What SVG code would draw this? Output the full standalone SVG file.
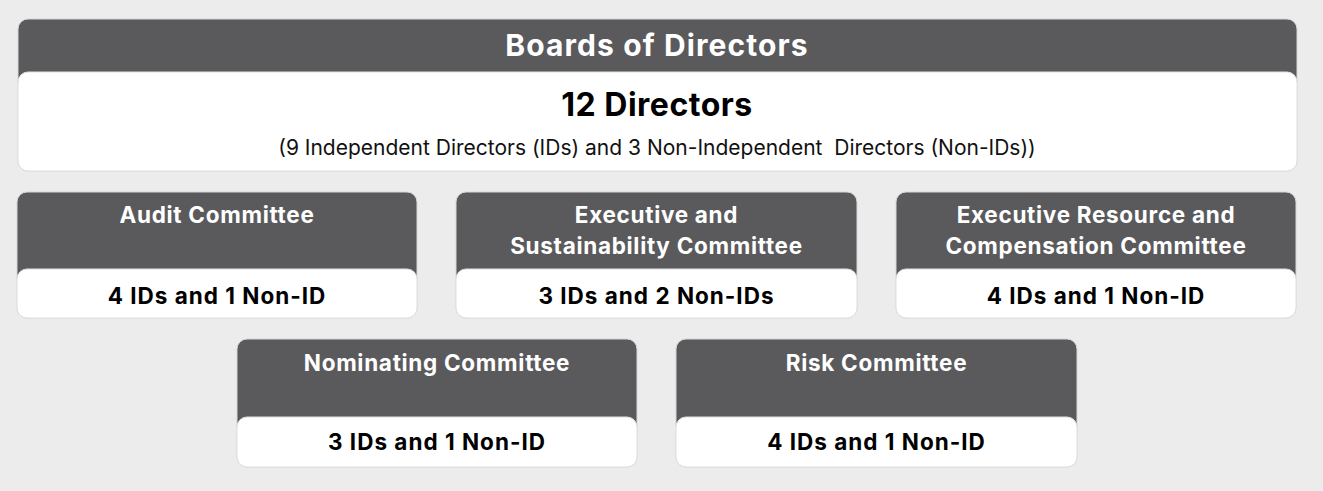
<svg xmlns="http://www.w3.org/2000/svg" width="1323" height="491" viewBox="0 0 1323 491">
<style>
.hd{fill:#5a5a5c;stroke:#d6d6d6;stroke-width:1}
.bd{fill:#ffffff;stroke:#e0e0e0;stroke-width:1}
.t{font-family:Inter,"Liberation Sans",sans-serif;text-anchor:middle;font-weight:700}
.w{fill:#ffffff;font-size:22.5px;letter-spacing:0.7px}
.k{fill:#000000;font-size:22.5px;letter-spacing:1px}
</style>
<rect x="0" y="0" width="1323" height="491" fill="#ececec"/>
<g id="board">
<rect class="hd" x="18" y="19" width="1279" height="152" rx="10"/>
<rect class="bd" x="18" y="72" width="1279" height="99" rx="10"/>
<text class="t" x="657" y="56" fill="#ffffff" font-size="30" letter-spacing="1.1">Boards of Directors</text>
<text class="t" x="657" y="116" fill="#000000" font-size="32" letter-spacing="0.5">12 Directors</text>
<text x="657" y="155" font-family="Inter,'Liberation Sans',sans-serif" font-size="21" text-anchor="middle" fill="#111111" xml:space="preserve">(9 Independent Directors (IDs) and 3 Non-Independent  Directors (Non-IDs))</text>
</g>
<g id="audit">
<rect class="hd" x="17" y="192" width="400" height="126" rx="10"/>
<rect class="bd" x="17" y="269" width="400" height="49" rx="10"/>
<text class="t w" x="217" y="223">Audit Committee</text>
<text class="t k" x="217" y="304">4 IDs and 1 Non-ID</text>
</g>
<g id="executive">
<rect class="hd" x="456" y="192" width="401" height="126" rx="10"/>
<rect class="bd" x="456" y="269" width="401" height="49" rx="10"/>
<text class="t w" x="656.5" y="223">Executive and</text>
<text class="t w" x="656.5" y="254">Sustainability Committee</text>
<text class="t k" x="656.5" y="304">3 IDs and 2 Non-IDs</text>
</g>
<g id="erc">
<rect class="hd" x="896" y="192" width="400" height="126" rx="10"/>
<rect class="bd" x="896" y="269" width="400" height="49" rx="10"/>
<text class="t w" x="1096" y="223">Executive Resource and</text>
<text class="t w" x="1096" y="254">Compensation Committee</text>
<text class="t k" x="1096" y="304">4 IDs and 1 Non-ID</text>
</g>
<g id="nominating">
<rect class="hd" x="237" y="339" width="400" height="128" rx="10"/>
<rect class="bd" x="237" y="417" width="400" height="50" rx="10"/>
<text class="t w" x="437" y="371">Nominating Committee</text>
<text class="t k" x="437" y="450">3 IDs and 1 Non-ID</text>
</g>
<g id="risk">
<rect class="hd" x="676" y="339" width="401" height="128" rx="10"/>
<rect class="bd" x="676" y="417" width="401" height="50" rx="10"/>
<text class="t w" x="876.5" y="371">Risk Committee</text>
<text class="t k" x="876.5" y="450">4 IDs and 1 Non-ID</text>
</g>
<g id="connectors"></g>
</svg>
